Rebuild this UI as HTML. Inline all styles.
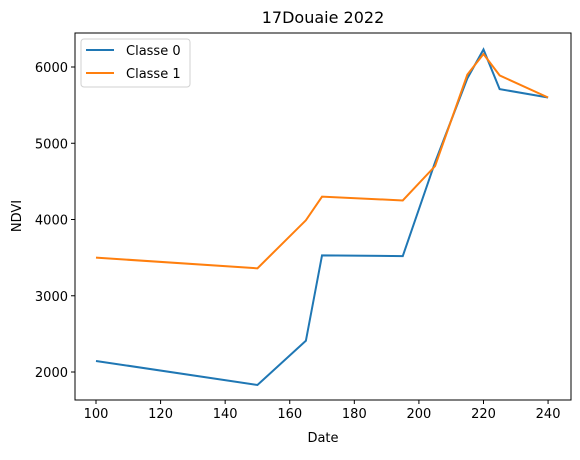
<!DOCTYPE html>
<html><head><meta charset="utf-8"><style>
body{margin:0;background:#fff;}
svg text{font-family:"DejaVu Sans","Liberation Sans",sans-serif;fill:#000;}
</style></head><body>
<svg id="chart" width="580" height="455" xmlns="http://www.w3.org/2000/svg">
<rect width="580" height="455" fill="#fff"/>
<text x="323" y="23" font-size="16" text-anchor="middle">17Douaie 2022</text>
<g id="grid"></g>
<g id="series"></g>
<rect x="75" y="33" width="496" height="367" fill="none" stroke="#000" stroke-width="1"/>
<text x="323" y="442" font-size="13" text-anchor="middle">Date</text>
<text x="0" y="0" font-size="13" text-anchor="middle" transform="translate(21,216) rotate(-90)">NDVI</text>
<g>
<rect x="81" y="39" width="109" height="48" rx="3" fill="#fff" stroke="#ccc" stroke-opacity="0.9"/>
<g>
<line x1="86" y1="50" x2="114" y2="50" stroke="#1f77b4" stroke-width="2"/>
<text x="126" y="55" font-size="13">Classe 0</text></g>
<g>
<line x1="86" y1="73" x2="114" y2="73" stroke="#ff7f0e" stroke-width="2"/>
<text x="126" y="78" font-size="13">Classe 1</text></g>
</g>
</svg>
<script>
const dates=[100,150,165,170,195,205,215,220,225,240];
const classe0=[2145,1830,2410,3530,3520,4750,5850,6230,5710,5600];
const classe1=[3500,3360,3990,4300,4250,4700,5900,6170,5890,5600];
const xTicks=[100,120,140,160,180,200,220,240];
const yTicks=[2000,3000,4000,5000,6000];
const X0=75,X1=571,Y0=400,Y1=33,xmin=93.5,xmax=247.1,ymin=1633,ymax=6446;
const sx=v=>X0+(v-xmin)/(xmax-xmin)*(X1-X0);
const sy=v=>Y0-(v-ymin)/(ymax-ymin)*(Y0-Y1);
const NS="http://www.w3.org/2000/svg";
const g=document.getElementById('grid'),s=document.getElementById('series');
function mk(t,a,p){const e=document.createElementNS(NS,t);for(const k in a)e.setAttribute(k,a[k]);p.appendChild(e);return e;}
xTicks.forEach(v=>{
 const l=mk('line',{x1:sx(v),x2:sx(v),y1:Y0,y2:Y0+4,stroke:'#000'},g);
 
 
 const t=mk('text',{x:sx(v),y:Y0+18,'font-size':13,'text-anchor':'middle'},g);t.textContent=v;
 
 
});
yTicks.forEach(v=>{
 const l=mk('line',{x1:X0-4,x2:X0,y1:sy(v),y2:sy(v),stroke:'#000'},g);
 
 
 const t=mk('text',{x:X0-7,y:sy(v)+5,'font-size':13,'text-anchor':'end'},g);t.textContent=v;
 
 
});
[[classe0,'#1f77b4','line-classe-0'],[classe1,'#ff7f0e','line-classe-1']].forEach(([d,c,n])=>{
 const p=mk('polyline',{points:d.map((v,i)=>sx(dates[i])+','+sy(v)).join(' '),fill:'none',stroke:c,'stroke-width':2},s);
 
 
});
</script>
</body></html>
